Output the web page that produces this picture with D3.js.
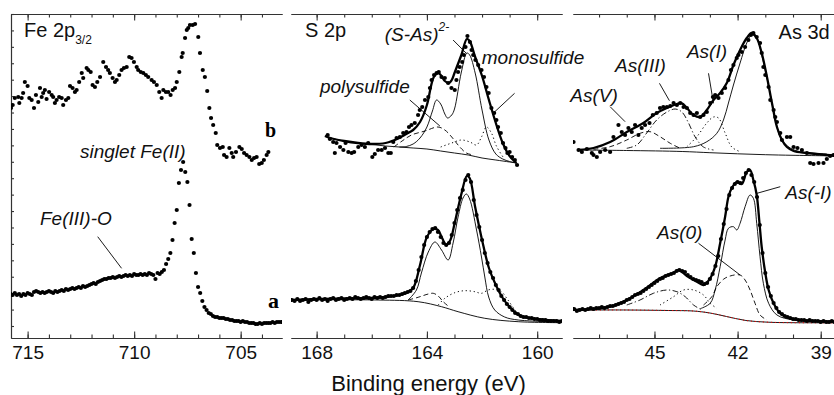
<!DOCTYPE html>
<html>
<head>
<meta charset="utf-8">
<script src="https://cdn.jsdelivr.net/npm/d3@7"></script>
<style>
  body { margin: 0; background: #fff; }
  svg { display: block; }
</style>
</head>
<body>
<div id="chart"></div>
<script>
// ---------- Fe 2p3/2 ----------
// spectrum a: evenly spaced scan, 0.1 eV step
const feA_start = 715.8, feA_step = 0.1;
const feA_counts = [32,31,33,31,32,30,32,31,33,32,31, 34,35,34,
  33,34,33,34,35,34,33,35,34,35,36,35, 37,36,37,38,37,38, 39,38,40,39,40,41,
  42,43,42,44,45,46,47, 47,48,48,49,48,49, 50,49,50,51,50,51,50,52,51,51,
  52,51,52,51,53,52,51, 47,53, 52,54,56, 62,67,73,86,103,116,
  143,156,164,154,144, 121,87,73,53,39,33,25,19,16,13,12,
  10,9,9,8,8,8,7,7,6,6,5,5,5,4,5,4,
  4,3,3,3,2,2,3,2,3,3,3,3,4,3,4,4,4,4];
// spectrum b
const feB_energy = [715.91,715.78,715.70,715.60,715.44,715.39,715.28,715.21,715.13,715.00,714.92,714.81,714.70,714.61,714.50,714.42,714.34,714.27,714.19,714.11,713.99,713.87,713.80,713.72,713.64,713.52,713.40,713.33,713.20,713.09,713.01,712.89,712.78,712.70,712.58,712.46,712.39,712.23,712.15,712.04,711.95,711.84,711.73,711.60,711.45,711.32,711.22,711.14,711.01,710.90,710.82,710.70,710.59,710.48,710.35,710.23,710.12,710.01,709.88,709.81,709.69,709.57,709.45,709.34,709.18,709.07,708.94,708.82,708.71,708.63,708.51,708.40,708.29,708.19,708.08,708.00,707.88,707.77,707.72,707.61,707.53,707.46,707.38,707.25,707.14,706.99,706.91,706.78,706.68,706.57,706.47,706.39,706.29,706.17,706.10,705.97,705.84,705.78,705.66,705.53,705.42,705.35,705.22,705.06,704.95,704.84,704.72,704.59,704.48,704.37,704.25,704.13,704.01,703.91,703.78,703.70];
const feB_counts = [230,218,221,228,229,223,228,233,244,240,228,226,218,231,224,238,229,233,236,227,234,231,229,223,226,229,228,221,226,228,240,238,234,236,244,253,248,258,256,254,241,239,244,249,264,259,256,253,248,244,246,251,256,258,259,269,268,264,259,256,254,253,251,249,246,244,241,234,228,236,234,234,231,236,238,244,254,269,273,288,296,298,301,301,302,289,273,256,249,235,218,208,201,193,181,178,179,171,169,178,173,169,174,179,177,173,171,169,166,168,169,162,163,166,171,174];

// ---------- S 2p ----------
const sA_start = 168.9, sA_step = 0.1;
const sA_counts = [26,25,27,25,26,27,24,26,27,26,28,26,27,25,27,28,26,27,28,26,27,
  28,27,29,28,27,28,29,28,27,29,28,29,28,29,30, 30,30,31,31,32, 33,34,35,38,45,
  56,69,81,89,94,97,98,94,89,83,81,83,91,103,116,128,136,
  146,151,144,126,111,99,86,73,63,54,48,41,36,30,26,22,19,16,13,12,10,
  9,9,8,8,7,7,6,6,6,5,5,5,5,4,5];
const sB_energy = [167.60,167.52,167.40,167.34,167.28,167.15,167.03,166.95,166.85,166.73,166.64,166.49,166.37,166.25,166.13,165.98,165.89,165.77,165.64,165.52,165.40,165.31,165.22,165.10,164.98,164.86,164.74,164.65,164.56,164.44,164.32,164.26,164.17,164.07,163.95,163.89,163.83,163.74,163.65,163.57,163.47,163.35,163.23,163.11,162.99,162.93,162.87,162.81,162.72,162.66,162.60,162.53,162.44,162.38,162.32,162.24,162.14,162.02,161.93,161.84,161.76,161.66,161.56,161.48,161.42,161.32,161.24,161.15,161.08,161.00,160.91,160.81,160.73];
const sB_counts = [191,187,184,173,183,179,176,183,174,173,174,179,181,179,183,169,172,176,176,178,173,173,184,188,189,193,194,199,201,203,211,216,219,226,229,238,246,251,253,254,249,248,243,238,236,246,254,259,264,271,279,290,284,276,271,266,261,256,249,239,233,218,213,206,199,193,183,178,173,174,169,166,161];

// fitted curves, [eV, intensity]
const sB_envelope = [[167.7,190],[167.5,188],[167,185],[166.5,183],[166,182],[165.5,183],[165,188],[164.75,192],[164.5,196],[164.25,204],[164,221],[163.85,240],[163.75,249],[163.6,253],[163.5,251],[163.35,245],[163.2,243],[163.1,246],[163,253],[162.75,271],[162.55,287],[162.45,285],[162.25,269],[162,250],[161.75,226],[161.5,203],[161.25,183],[161,170],[160.75,163]];
const sB_background = [[167.7,190],[167.5,188],[167,185],[166.5,183],[166,181.5],[165.5,180],[165,179],[164.5,178],[164,177],[163.5,175],[163,173],[162.5,171],[162,168],[161.5,166],[161,164],[160.75,163]];
const sB_main = [[165,179],[164.75,179.5],[164.5,182],[164.25,188],[164,199],[163.8,215],[163.65,226],[163.5,222],[163.35,212],[163.25,208],[163.1,211],[163,217],[162.75,254],[162.55,273],[162.45,271],[162.25,253],[162,216],[161.75,186],[161.5,172],[161.25,167],[161,164.5],[160.75,163]];
const sB_poly = [[165.2,179],[164.9,185],[164.56,191],[164.07,195],[163.6,199],[163.35,196],[163.1,189],[162.87,181],[162.57,173],[162.3,171]];
const sB_mono = [[163.5,179],[163.1,183],[162.75,186],[162.44,184],[162.2,181],[162.02,189],[161.84,199],[161.66,193],[161.48,180],[161.24,169]];

const sA_envelope = [[168.9,26],[168,27],[167,27.5],[166,28],[165.5,29],[165,31],[164.75,33],[164.5,38],[164.25,61],[164,89],[163.75,97],[163.6,96],[163.45,88],[163.3,81],[163.15,86],[163,102],[162.75,132],[162.55,150],[162.45,148],[162.25,119],[162,86],[161.75,58],[161.5,41],[161.25,28],[161,19],[160.75,12.5],[160.5,9],[160,7],[159.5,5.5],[159.1,5]];
const sA_background = [[168.9,26],[165.77,26],[164.32,24.3],[163.47,19.3],[162.87,14.3],[161.9,7.7],[160.69,4.3],[159.06,3.3]];
const sA_main = [[164.68,26],[164.38,36],[164.2,53],[163.95,74],[163.71,84],[163.47,76],[163.23,66],[163.05,83],[162.87,109],[162.69,128],[162.57,132],[162.45,127],[162.2,96],[162.02,69],[161.9,49],[161.76,29],[161.54,16],[161.18,9],[160.69,6],[159.49,4.3]];
const sA_poly = [[164.68,26],[164.32,28.7],[163.95,32],[163.77,32.7],[163.59,30],[163.41,24.3],[163.23,20]];
const sA_mono = [[163.59,21],[163.35,27.7],[162.99,33.3],[162.63,35.3],[162.26,34.3],[162.02,32.7],[161.78,36],[161.54,36.7],[161.3,34.3],[161.06,26],[160.81,16],[160.57,8]];

// ---------- As 3d ----------
const asA_start = 48.0, asA_step = 0.1;
const asA_counts = [16,17,15,16,17,16,17,18,17,18, 18,19,18,19,20,20,21,22,23,24,
  26,27,29,31,32,33,35,37,39,41, 43,45,47,48,50,51,52,53,55,56,
  55,54,51,49,47,46,45,44,42,43, 47,52,60,70,87,102,117,131,138,142,
  144,143,148,153,156,151,144,129,101,73, 53,39,30,23,18,14,12,10,9,8,
  7,7,6,6,6,5,6,5,5,5,4,5,4,4,5,4];
const asB_energy = [47.92,47.74,47.62,47.44,47.26,47.20,47.08,46.96,46.78,46.60,46.48,46.30,46.18,46.06,45.94,45.82,45.70,45.58,45.46,45.34,45.18,45.06,44.92,44.80,44.68,44.55,44.43,44.31,44.19,44.07,43.95,43.83,43.71,43.59,43.47,43.35,43.23,43.11,42.99,42.89,42.81,42.69,42.57,42.45,42.33,42.24,42.15,42.03,41.97,41.85,41.73,41.61,41.52,41.43,41.31,41.19,41.13,41.07,41.00,40.88,40.82,40.70,40.64,40.58,40.46,40.40,40.22,40.10,39.98,39.84,39.68,39.50,39.38,39.26,39.08,38.90,38.78,38.66,38.54];
const asB_counts = [184,176,174,177,173,171,169,174,176,174,189,201,194,191,198,194,201,191,198,201,203,211,213,218,219,219,220,223,221,223,219,218,213,211,213,209,211,214,223,229,231,228,233,238,246,256,261,268,271,274,279,286,291,293,289,283,273,259,251,239,226,216,209,204,193,186,189,189,179,178,176,173,163,162,163,163,167,170,171];

const asB_envelope = [[47.74,176],[47.2,178],[46.6,184],[46,194],[45.4,203],[44.92,213],[44.55,218],[44.19,222],[44.01,222.7],[43.83,218],[43.59,211],[43.35,209],[43.11,216],[42.87,226],[42.63,233],[42.39,243],[42.15,261],[41.91,276],[41.67,288],[41.49,293],[41.31,288],[41.13,273],[40.94,249],[40.76,223],[40.58,199],[40.4,186],[40.22,179],[39.98,175],[39.5,173],[38.78,171],[38.16,170]];
const asB_background = [[47.74,176],[46,175.5],[44,174.5],[43,173.3],[42,172.2],[41,171.3],[40,170.7],[38.16,170]];
const asB_main = [[44.8,177.7],[43.59,179.3],[43.11,184.3],[42.75,192.7],[42.51,206],[42.33,223],[42.15,241],[41.91,263],[41.67,283],[41.49,291],[41.31,288],[41.13,271],[40.94,248],[40.76,223],[40.58,199],[40.4,186],[40.1,178],[39.74,174.3],[38.78,172]];
const asB_III = [[46,177.7],[45.64,181],[45.28,193],[44.92,206],[44.55,214],[44.25,217],[44.01,214],[43.77,203],[43.53,189],[43.23,179],[42.87,176]];
const asB_V = [[47.2,176.7],[46.6,179.3],[46,186],[45.52,192.7],[45.16,194.3],[44.8,189.3],[44.43,182.7],[44.07,177.7]];
const asB_I = [[43.83,179.3],[43.47,189.3],[43.11,203],[42.87,209],[42.69,208],[42.45,193],[42.21,179],[41.91,174.3]];

const asA_envelope = [[47.98,16],[47.2,17],[46.6,19.3],[46,26],[45.4,36],[44.8,47.7],[44.31,53.3],[44.13,56],[43.83,50],[43.47,44.3],[43.23,41],[42.99,47.7],[42.81,59.3],[42.63,82.7],[42.45,109.3],[42.33,129.3],[42.21,138],[42.03,144],[41.85,142],[41.67,154],[41.55,156],[41.43,146],[41.31,131],[41.21,103],[41.13,79],[41,53],[40.88,36],[40.7,22.7],[40.46,12.7],[40.1,7.7],[39.5,5.3],[38.16,4.3]];
const asA_background = [[47.98,16],[46,16],[44.5,15.5],[43.6,15],[43,13],[42.4,9.5],[41.7,5.5],[40.9,3.8],[40,3.3],[38.16,3.2]];
const asA_main = [[43.35,17.3],[42.99,22.7],[42.81,36],[42.63,59.3],[42.45,86],[42.33,97.7],[42.15,99.3],[42.03,96],[41.91,102.7],[41.73,119.3],[41.55,131],[41.43,127.7],[41.31,102.7],[41.19,69.3],[41.07,42.7],[40.88,22.7],[40.58,11],[39.98,6],[38.78,4.3]];
const asA_zero = [[43.23,21],[42.93,29.3],[42.75,39.3],[42.51,46.7],[42.27,50],[41.91,51],[41.73,46],[41.55,36],[41.37,22.7],[41.19,11],[40.94,6]];
const asA_III = [[46,21],[45.52,26],[45.04,32.7],[44.55,36],[44.19,34.3],[43.89,29.3],[43.59,21],[43.29,16]];
const asA_I = [[44.8,21],[44.31,29.3],[43.95,36],[43.59,36],[43.23,31],[42.99,22.7],[42.75,17.7]];

// tick labels
const feMajor = [715, 710, 705], sMajor = [168, 164, 160], asMajor = [45, 42, 39];

// ---------- layout ----------
const width = 834, height = 395;
const plotTop = 14, plotBottom = 338;
const font = "'Liberation Sans', Arial, Helvetica, sans-serif";

const y = d3.scaleLinear().domain([-12, 312]).range([plotBottom, plotTop]);

const panels = [
  { id: "fe", x: d3.scaleLinear().domain([715.78, 703.06]).range([11, 282]),
    major: feMajor, minor: d3.range(704, 716), leftAxis: true },
  { id: "s", x: d3.scaleLinear().domain([168.93, 159.1]).range([291, 562]),
    major: sMajor, minor: d3.range(160, 169) },
  { id: "as", x: d3.scaleLinear().domain([47.94, 38.16]).range([573, 844]),
    major: asMajor, minor: d3.range(39, 48) }
];
const P = {};
panels.forEach(p => P[p.id] = p);

const svg = d3.select("#chart").append("svg")
  .attr("width", width).attr("height", height)
  .attr("font-family", font);

const defs = svg.append("defs");

const lineStyles = {
  envelope: { w: 2.3, dash: null },
  solid:    { w: 0.9, dash: null },
  dashed:   { w: 0.9, dash: "5,3" },
  dotted:   { w: 1.0, dash: "1.2,2.8" },
  dashdot:  { w: 0.9, dash: "6,2.5,1.2,2.5" }
};

panels.forEach(p => {
  const [x0, x1] = p.x.range();
  defs.append("clipPath").attr("id", "clip-" + p.id)
    .append("rect").attr("x", x0).attr("y", plotTop - 2)
    .attr("width", x1 - x0).attr("height", plotBottom - plotTop + 2);

  const g = svg.append("g");

  // bottom axis: minor then major ticks pointing inward
  const bottom = g.append("g").attr("transform", `translate(0,${plotBottom})`);
  bottom.append("g").call(d3.axisBottom(p.x).tickValues(p.minor)
    .tickSizeInner(-3.5).tickSizeOuter(0).tickFormat(""));
  bottom.append("g").call(d3.axisBottom(p.x).tickValues(p.major)
    .tickSizeInner(-6.5).tickSizeOuter(0).tickPadding(8).tickFormat(d3.format("d")));

  const topAx = g.append("g").attr("transform", `translate(0,${plotTop})`);
  topAx.append("g").call(d3.axisTop(p.x).tickValues(p.minor)
    .tickSizeInner(-3.5).tickSizeOuter(0).tickFormat(""));
  topAx.append("g").call(d3.axisTop(p.x).tickValues(p.major)
    .tickSizeInner(-6.5).tickSizeOuter(0).tickFormat(""));

  if (p.leftAxis) {
    g.append("g").attr("transform", `translate(${x0},0)`)
      .call(d3.axisLeft(y).tickValues(d3.range(0, 313, 312 / 19))
        .tickSizeInner(-3).tickSizeOuter(0).tickFormat(""));
  }

  g.selectAll(".domain").attr("stroke", "#333").attr("stroke-width", 1.2);
  g.selectAll(".tick line").attr("stroke", "#333").attr("stroke-width", 1.1);
  g.selectAll(".tick text").attr("font-size", 19).attr("fill", "#111")
    .attr("font-family", font);

  p.plot = svg.append("g").attr("clip-path", `url(#clip-${p.id})`);
});

function drawDots(p, pts) {
  p.plot.append("g").selectAll("circle").data(pts).join("circle")
    .attr("cx", d => p.x(d[0])).attr("cy", d => y(d[1]))
    .attr("r", 2.1).attr("fill", "#000");
}
function drawCurve(p, pts, style, color) {
  const s = lineStyles[style];
  const line = d3.line().x(d => p.x(d[0])).y(d => y(d[1]))
    .curve(d3.curveCatmullRom.alpha(0.5));
  p.plot.append("path").datum(pts).attr("d", line)
    .attr("fill", "none").attr("stroke", color || "#000")
    .attr("stroke-width", s.w).attr("stroke-dasharray", s.dash)
    .attr("stroke-linejoin", "round");
}
const grid = (start, step, vals) => vals.map((v, i) => [start - i * step, v]);
const zip = (e, c) => e.map((v, i) => [v, c[i]]);

// Fe
drawDots(P.fe, zip(feB_energy, feB_counts));
drawDots(P.fe, grid(feA_start, feA_step, feA_counts));

// S
drawCurve(P.s, sB_background, "solid");
drawCurve(P.s, sB_poly, "dashed");
drawCurve(P.s, sB_mono, "dotted");
drawCurve(P.s, sB_main, "solid");
drawDots(P.s, zip(sB_energy, sB_counts));
drawCurve(P.s, sB_envelope, "envelope");
drawCurve(P.s, sA_background, "solid");
drawCurve(P.s, sA_poly, "dashed");
drawCurve(P.s, sA_mono, "dotted");
drawCurve(P.s, sA_main, "solid");
drawDots(P.s, grid(sA_start, sA_step, sA_counts));
drawCurve(P.s, sA_envelope, "envelope");

// As
drawCurve(P.as, asB_background, "solid");
drawCurve(P.as, asB_V, "dashed");
drawCurve(P.as, asB_III, "dashdot");
drawCurve(P.as, asB_I, "dotted");
drawCurve(P.as, asB_main, "solid");
drawDots(P.as, zip(asB_energy, asB_counts));
drawCurve(P.as, asB_envelope, "envelope");
drawCurve(P.as, asA_background, "solid");
drawCurve(P.as, asA_background, "dotted", "#e00");
drawCurve(P.as, asA_III, "dashdot");
drawCurve(P.as, asA_I, "dotted");
drawCurve(P.as, asA_zero, "dashed");
drawCurve(P.as, asA_main, "solid");
drawDots(P.as, grid(asA_start, asA_step, asA_counts));
drawCurve(P.as, asA_envelope, "envelope");

// ---------- annotations (data coordinates) ----------
const labels = [
  { p: "fe", e: 712.54, v: 168, t: "singlet Fe(II)" },
  { p: "fe", e: 714.42, v: 101, t: "Fe(III)-O" },
  { p: "s", e: 167.88, v: 233, t: "polysulfide" },
  { p: "s", e: 162.01, v: 262, t: "monosulfide" },
  { p: "as", e: 48.04, v: 224.5, t: "As(V)" },
  { p: "as", e: 46.42, v: 254.5, t: "As(III)" },
  { p: "as", e: 43.83, v: 268, t: "As(I)" },
  { p: "as", e: 40.28, v: 127, t: "As(-I)" },
  { p: "as", e: 44.91, v: 87, t: "As(0)" }
];
const leaders = [
  { p: "fe", e1: 711.71, v1: 89.3, e2: 710.59, v2: 57.7 },
  { p: "s", e1: 163.05, v1: 286, e2: 162.57, v2: 272.7 },
  { p: "s", e1: 160.82, v1: 232.7, e2: 161.6, v2: 212.7 },
  { p: "s", e1: 164.62, v1: 226, e2: 163.53, v2: 200 },
  { p: "as", e1: 46.6, v1: 219.3, e2: 46.06, v2: 204.3 },
  { p: "as", e1: 44.82, v1: 242.7, e2: 44.46, v2: 225.3 },
  { p: "as", e1: 43.05, v1: 252.7, e2: 42.87, v2: 222.7 },
  { p: "as", e1: 40.46, v1: 139.3, e2: 41.3, v2: 132.7 },
  { p: "as", e1: 43.41, v1: 82.7, e2: 41.91, v2: 51 }
];

const ann = svg.append("g");
ann.selectAll("line").data(leaders).join("line")
  .attr("x1", d => P[d.p].x(d.e1)).attr("y1", d => y(d.v1))
  .attr("x2", d => P[d.p].x(d.e2)).attr("y2", d => y(d.v2))
  .attr("stroke", "#000").attr("stroke-width", 0.9);
ann.selectAll("text.lab").data(labels).join("text").attr("class", "lab")
  .attr("x", d => P[d.p].x(d.e)).attr("y", d => y(d.v))
  .attr("font-size", 19).attr("font-style", "italic").attr("fill", "#111")
  .text(d => d.t);

// (S-As)2-
const sas = ann.append("text").attr("x", P.s.x(165.53)).attr("y", y(285))
  .attr("font-size", 19).attr("font-style", "italic").attr("fill", "#111");
sas.append("tspan").text("(S-As)");
sas.append("tspan").attr("dy", -10).attr("font-size", 12).text("2-");

// panel titles
const feT = ann.append("text").attr("x", P.fe.x(715.17)).attr("y", y(289))
  .attr("font-size", 20).attr("fill", "#111");
feT.append("tspan").text("Fe 2p");
feT.append("tspan").attr("dy", 7).attr("font-size", 12).text("3/2");
ann.append("text").attr("x", P.s.x(168.42)).attr("y", y(289))
  .attr("font-size", 20).attr("fill", "#111").text("S 2p");
ann.append("text").attr("x", P.as.x(40.52)).attr("y", y(287))
  .attr("font-size", 20).attr("fill", "#111").text("As 3d");

// spectrum letters
ann.append("text").attr("x", P.fe.x(703.86)).attr("y", y(189))
  .attr("font-family", "'Liberation Serif', 'Times New Roman', serif")
  .attr("font-weight", "bold").attr("font-size", 20).text("b");
ann.append("text").attr("x", P.fe.x(703.72)).attr("y", y(18))
  .attr("font-family", "'Liberation Serif', 'Times New Roman', serif")
  .attr("font-weight", "bold").attr("font-size", 22).text("a");

// axis title
svg.append("text").attr("x", (P.s.x.range()[0] + P.s.x.range()[1]) / 2 + 2)
  .attr("y", 391).attr("text-anchor", "middle")
  .attr("font-size", 22).attr("fill", "#111").text("Binding energy (eV)");
</script>
</body>
</html>
